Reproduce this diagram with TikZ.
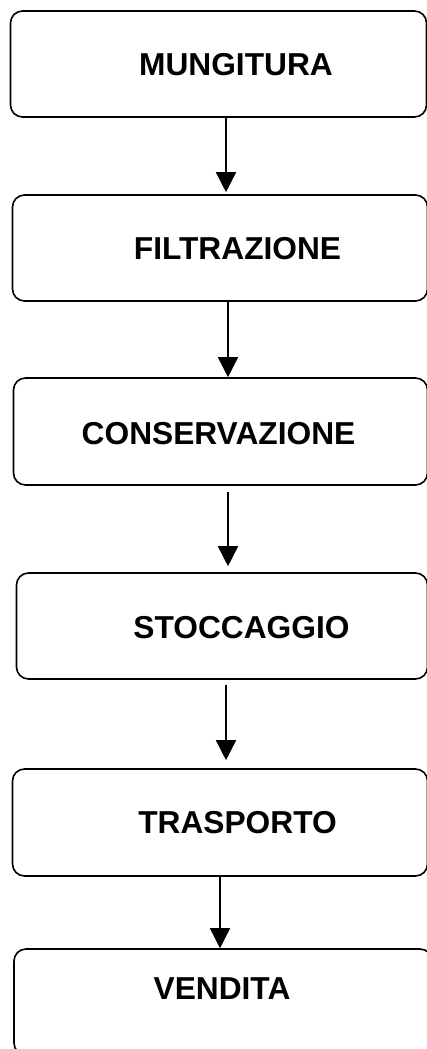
\documentclass[tikz,border=0pt]{standalone}
\usepackage{fontspec}
\setmainfont{Liberation Sans}
\usetikzlibrary{arrows.meta}
\begin{document}
\begin{tikzpicture}[x=1pt,y=-1pt,
  box/.style={draw=black,line width=1.6pt,rounded corners=12pt,inner sep=0pt,fill=white},
  lbl/.style={inner sep=0pt,font=\fontsize{31.7}{38}\selectfont\bfseries},
  arr/.style={line width=1.5pt,-{Triangle[width=20pt,length=20pt]}}]
\useasboundingbox (0,0) rectangle (427,1049);
\clip (0,0) rectangle (427,1049);
\fill[white] (0,0) rectangle (427,1049);
\node[box,minimum width=416pt,minimum height=106pt] (b1) at (218.5,64) {};
\node[box,minimum width=415pt,minimum height=106pt] (b2) at (220,248) {};
\node[box,minimum width=414pt,minimum height=107pt] (b3) at (220.5,431.5) {};
\node[box,minimum width=411pt,minimum height=106pt] (b4) at (222,626) {};
\node[box,minimum width=415pt,minimum height=107pt] (b5) at (220,822.5) {};
\node[box,minimum width=418pt,minimum height=106pt] (b6) at (223,1002) {};
\node[lbl] (t1) at (236,65) {MUNGITURA};
\node[lbl] (t2) at (237.5,248.5) {FILTRAZIONE};
\node[lbl] (t3) at (218.5,433.5) {CONSERVAZIONE};
\node[lbl] (t4) at (241.5,627.5) {STOCCAGGIO};
\node[lbl] (t5) at (237.5,822.5) {TRASPORTO};
\node[lbl] (t6) at (222,988.5) {VENDITA};
\coordinate (a1) at (226,0);
\coordinate (a2) at (228,0);
\coordinate (a3) at (228,0);
\coordinate (a4) at (226,0);
\coordinate (a5) at (220,0);
\draw[arr,shorten >=2pt] (b1.south -| a1) -- (b2.north -| a1);
\draw[arr] (b2.south -| a2) -- (b3.north -| a2);
\draw[arr,shorten <=6pt,shorten >=6pt] (b3.south -| a3) -- (b4.north -| a3);
\draw[arr,shorten <=5pt,shorten >=8pt] (b4.south -| a4) -- (b5.north -| a4);
\draw[arr] (b5.south -| a5) -- (b6.north -| a5);
\end{tikzpicture}
\end{document}
